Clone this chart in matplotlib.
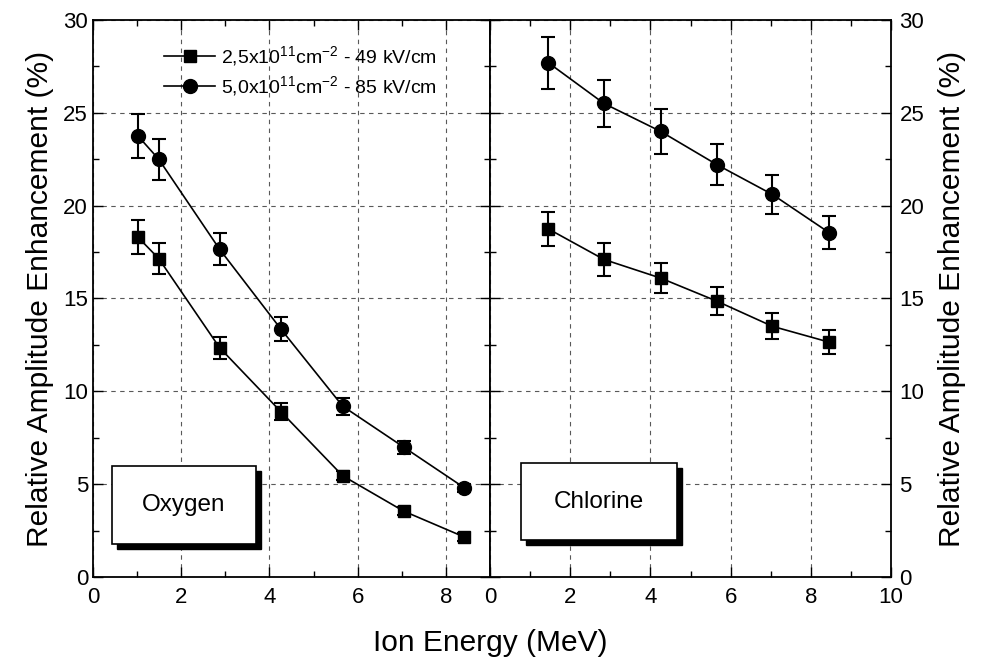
import numpy as np
import matplotlib
matplotlib.use('Agg')
import matplotlib.pyplot as plt
from matplotlib.patches import Rectangle
from matplotlib.lines import Line2D
from matplotlib.transforms import ScaledTranslation
from matplotlib.ticker import MultipleLocator

plt.rcParams['font.family'] = ['Liberation Sans', 'DejaVu Sans']
plt.rcParams['mathtext.fontset'] = 'custom'
plt.rcParams['mathtext.rm'] = 'Liberation Sans'
plt.rcParams['mathtext.it'] = 'Liberation Sans:italic'

# Oxygen ions
oxy_energy = [1.02, 1.49, 2.87, 4.26, 5.66, 7.04, 8.42]
oxy_low = [18.3, 17.15, 12.35, 8.9, 5.45, 3.55, 2.15]
oxy_low_err = [0.9, 0.85, 0.6, 0.45, 0.25, 0.2, 0.2]
oxy_high = [23.75, 22.5, 17.65, 13.35, 9.2, 7.0, 4.8]
oxy_high_err = [1.2, 1.1, 0.85, 0.65, 0.45, 0.35, 0.2]

# Chlorine ions
cl_energy = [1.45, 2.84, 4.25, 5.66, 7.04, 8.45]
cl_low = [18.75, 17.1, 16.1, 14.85, 13.5, 12.65]
cl_low_err = [0.92, 0.88, 0.8, 0.75, 0.7, 0.63]
cl_high = [27.7, 25.5, 24.0, 22.2, 20.6, 18.55]
cl_high_err = [1.4, 1.27, 1.2, 1.1, 1.05, 0.9]

label_low = '2,5x10$^{11}$cm$^{-2}$ - 49 kV/cm'
label_high = '5,0x10$^{11}$cm$^{-2}$ - 85 kV/cm'

fig = plt.figure(figsize=(9.88, 6.64), dpi=100)
ax1 = fig.add_axes([0.0941, 0.131, 0.4019, 0.839])
ax2 = fig.add_axes([0.496, 0.131, 0.406, 0.839])

style = dict(color='black', lw=1.2, elinewidth=1.5, capsize=5, capthick=1.5)

def panel(ax, x, lo, lo_err, hi, hi_err):
    ax.errorbar(x, lo, yerr=lo_err, marker='s', ms=9, **style)
    ax.errorbar(x, hi, yerr=hi_err, marker='o', ms=10, **style)
    ax.set_ylim(0, 30)
    ax.yaxis.set_major_locator(MultipleLocator(5))
    ax.yaxis.set_minor_locator(MultipleLocator(2.5))
    ax.xaxis.set_major_locator(MultipleLocator(2))
    ax.xaxis.set_minor_locator(MultipleLocator(1))
    ax.tick_params(which='both', direction='in', top=True, right=True,
                   labelsize=16, width=1.0)
    ax.tick_params(which='major', length=7)
    ax.tick_params(which='minor', length=4)
    ax.tick_params(axis='x', pad=7)
    ax.grid(True, which='major', color='0.35', linestyle=(0, (4, 4)), lw=0.8)
    for s in ax.spines.values():
        s.set_linewidth(1.3)

def name_box(ax, x0, y0, w, h, text):
    shadow = ScaledTranslation(5 / 100, -5 / 100, fig.dpi_scale_trans)
    ax.add_patch(Rectangle((x0, y0), w, h, facecolor='black', edgecolor='black',
                           transform=ax.transData + shadow, zorder=5))
    ax.add_patch(Rectangle((x0, y0), w, h, facecolor='white', edgecolor='black',
                           lw=1.2, zorder=6))
    ax.text(x0 + w / 2, y0 + h / 2, text, fontsize=17.5, ha='center',
            va='center', zorder=7)

panel(ax1, oxy_energy, oxy_low, oxy_low_err, oxy_high, oxy_high_err)
ax1.set_xlim(0, 9)
ax1.set_ylabel('Relative Amplitude Enhancement (%)', fontsize=21.5, labelpad=7)
name_box(ax1, 0.42, 1.8, 3.28, 4.18, 'Oxygen')

panel(ax2, cl_energy, cl_low, cl_low_err, cl_high, cl_high_err)
ax2.set_xlim(0, 10)
ax2.yaxis.tick_right()
ax2.yaxis.set_label_position('right')
ax2.tick_params(which='both', left=True, right=True, labelleft=False,
                labelright=True)
ax2.tick_params(axis='y', pad=6)
ax2.set_ylabel('Relative Amplitude Enhancement (%)', fontsize=21.5,
               rotation=90, labelpad=10)
name_box(ax2, 0.76, 2.0, 3.89, 4.12, 'Chlorine')

handles = [Line2D([], [], color='black', lw=1.2, marker='s', ms=9),
           Line2D([], [], color='black', lw=1.2, marker='o', ms=10)]
ax1.legend(handles, [label_low, label_high], loc='upper left',
           bbox_to_anchor=(0.16, 0.97), frameon=False, fontsize=14,
           handlelength=2.6, handletextpad=0.3, labelspacing=0.3,
           borderaxespad=0)

fig.text(0.496, 0.032, 'Ion Energy (MeV)', fontsize=21.5, ha='center',
         va='center')

fig.savefig('out.png', dpi=100)
